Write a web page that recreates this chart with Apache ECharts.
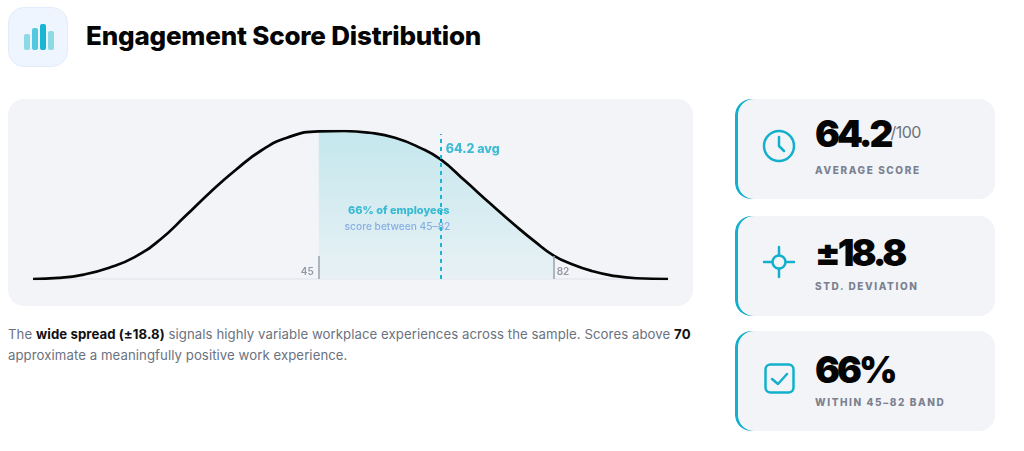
<!DOCTYPE html>
<html><head><meta charset="utf-8">
<script src="https://cdn.jsdelivr.net/npm/echarts@6/dist/echarts.min.js"></script>
<style>
html,body{margin:0;padding:0;background:#fff;width:1024px;height:451px;overflow:hidden;font-family:Inter,"Open Sans",sans-serif}
.abs{position:absolute;white-space:nowrap}
#iconbox{left:8px;top:7px;width:58px;height:58px;border-radius:16px;background:#eef5fe;border:1px solid #e2edfb}
#title{left:86px;top:18px;font-size:26px;line-height:36px;font-weight:800;color:#050505;letter-spacing:-.2px}
#chart{left:8px;top:99px;width:685px;height:207px;border-radius:16px;background:#f3f4f8;overflow:hidden}
#para{left:8px;top:324px;font-size:13.2px;line-height:21px;color:#6b7280;letter-spacing:.07px}
#para b{color:#111;font-weight:700}
.card{left:735px;width:260px;height:100px;border-radius:16px;background:#f3f4f8;overflow:hidden}
.card i{position:absolute;left:0;top:0;width:20px;height:100px;background:#12b0cc;border-radius:16px 0 0 16px}
.card u{position:absolute;left:3px;top:0;width:257px;height:100px;background:#f3f4f8;border-radius:16px}
.val{left:80px;font-size:37px;line-height:44px;font-weight:900;color:#050505;letter-spacing:-3px}
.val small{font-size:16px;font-weight:400;color:#6b7280;position:relative;top:-9px;letter-spacing:-.5px;margin-left:0}
.lab{left:80px;font-size:10px;line-height:14px;font-weight:800;color:#7b8190;letter-spacing:1.6px}
svg{position:absolute;left:0;top:0}
</style></head><body>
<div class="abs" id="iconbox"></div>
<svg width="80" height="70"><g id="bars"></g></svg>
<div class="abs" id="title"></div>
<div class="abs" id="chart"></div>
<div class="abs" id="para">The <b>wide spread (±18.8)</b> signals highly variable workplace experiences across the sample. Scores above <b>70</b><br>approximate a meaningfully positive work experience.</div>
<div id="cards"></div>
<svg width="1024" height="451" style="pointer-events:none" fill="none" stroke="#12b0cc" stroke-width="2.5" stroke-linecap="round" stroke-linejoin="round">
<circle cx="779" cy="146" r="15"/><path d="M779 137V146L784 151"/>
<circle cx="779" cy="262" r="6.5"/><path d="M764 262H772M786 262H794M779 247V255M779 269V277"/>
<rect x="765.5" y="364.5" width="28" height="28" rx="5"/><path d="M772 379L778 384L787 374"/>
</svg>
<script>
const titleText = "Engagement Score Distribution";
const scores = [0,4,8,12,16,20,24,28,32,36,40,45,49,53,57,61,64.2,68,72,76,79,82,85,88,91,95,100];
const density = [0,.7,3,7.6,14.8,26.5,42.5,59,74,87,95.5,99.8,100,98.8,95.4,88.6,80.8,66.5,51,36,25.4,15.8,9.8,5.4,2.5,.5,0];
const bandLow = 45, bandHigh = 82, mean = 64.2;
const cardTops = [99,216,331];
const cardValues = ['64.2<small>/100</small>','±18.8','66%'];
const cardLabels = ['AVERAGE SCORE','STD. DEVIATION','WITHIN 45–82 BAND'];
const barHeights = [16,22,26,19];
const barColors = ['#8dd9e6','#54c8de','#1ab5d2','#8dd9e6'];

document.getElementById('title').textContent = titleText;
document.getElementById('bars').innerHTML = barHeights.map((h,i)=>`<rect x="${24+i*8}" y="${50-h}" width="6" height="${h}" rx="2" fill="${barColors[i]}"/>`).join('');
document.getElementById('cards').innerHTML = cardTops.map((t,i)=>`<div class="abs card" style="top:${t}px"><i></i><u></u>
<div class="abs val" style="top:${[13,15,17][i]}px">${cardValues[i]}</div><div class="abs lab" style="top:${[64,63,64][i]}px">${cardLabels[i]}</div></div>`).join('');

const curve = scores.map((s,i)=>[s,density[i]]);
const band = curve.filter(p=>p[0]>=bandLow&&p[0]<=bandHigh);
const tickTop = 15.5, avgTop = 98;
const txt = (x,y,text,pos,font)=>({value:[x,y],label:Object.assign({show:true,formatter:text,position:pos},font)});
const chart = echarts.init(document.getElementById('chart'),null,{renderer:'canvas'});
chart.setOption({
  animation:false,
  grid:{left:25,right:25,top:32,bottom:27},
  xAxis:{type:'value',min:0,max:100,axisLine:{show:true,onZero:false,lineStyle:{color:'#e6e8ee',width:1.5}},axisTick:{show:false},axisLabel:{show:false},splitLine:{show:false}},
  yAxis:{type:'value',min:0,max:100,show:false},
  series:[
    {type:'line',data:band,smooth:.5,symbol:'none',lineStyle:{width:0},z:1,
     areaStyle:{opacity:1,color:{type:'linear',x:0,y:0,x2:0,y2:1,colorStops:[{offset:0,color:'#c4e7ed'},{offset:1,color:'#e8f1f5'}]}}},
    {type:'line',data:curve,smooth:.5,symbol:'none',z:3,lineStyle:{color:'#050505',width:2.7}},
    {type:'line',data:[],z:4,symbol:'none',
     markLine:{silent:true,symbol:'none',label:{show:false},lineStyle:{type:'solid',color:'#9aa0ad',width:1.5},
       data:[[{coord:[bandLow,0]},{coord:[bandLow,tickTop]}],[{coord:[bandHigh,0]},{coord:[bandHigh,tickTop]}]]}},
    {type:'line',data:[],z:5,symbol:'none',
     markLine:{silent:true,symbol:'none',label:{show:false},lineStyle:{type:[4,4],color:'#1ab7d4',width:2},
       data:[[{coord:[mean,0]},{coord:[mean,avgTop]}]]}},
    {type:'scatter',symbolSize:0,z:4,silent:true,data:[
      txt(bandLow,5,'45','left',{color:'#7b8190',fontSize:10,fontWeight:600,distance:5,fontFamily:'Inter'}),
      txt(bandHigh,5,'82','right',{color:'#7b8190',fontSize:10,fontWeight:600,distance:3,fontFamily:'Inter'}),
      txt(mean,87.4,'64.2 avg','right',{color:'#12aecb',fontSize:12.5,fontWeight:800,distance:5,fontFamily:'Inter'}),
      txt(57.6,46,'66% of employees','inside',{color:'#12aecb',fontSize:11,fontWeight:800,fontFamily:'Inter'}),
      txt(57.4,35.2,'score between 45–82','inside',{color:'#6f9fe0',fontSize:10.2,fontWeight:500,fontFamily:'Inter'})
    ]}
  ]
});
</script>
</body></html>
